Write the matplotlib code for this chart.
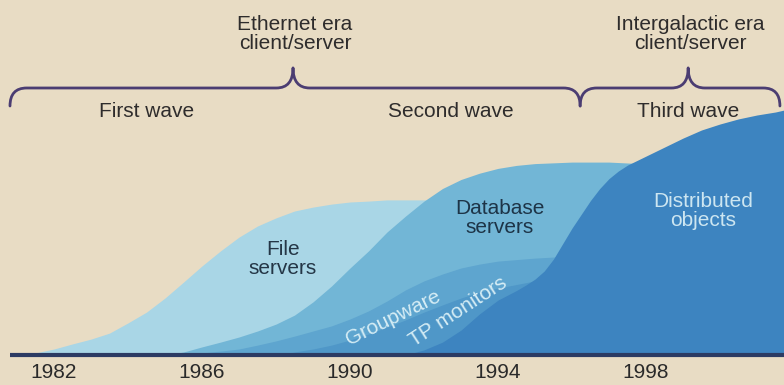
import matplotlib
matplotlib.use("Agg")
import matplotlib.pyplot as plt
from matplotlib.path import Path
from matplotlib.patches import PathPatch

plt.rcParams['font.family'] = ['Liberation Sans', 'DejaVu Sans']

# valores (anio, nivel relativo)
file_x = [1981.0, 1981.5, 1982.0, 1982.5, 1983.0, 1983.5, 1984.0, 1984.5, 1985.0, 1985.5,
          1986.0, 1986.5, 1987.0, 1987.5, 1988.0, 1988.5, 1989.0, 1989.5, 1990.0, 1990.5,
          1991.0, 1992.0, 1993.0, 1994.0]
file_y = [0, 0.7, 2, 3.7, 5.3, 7.3, 10.7, 14.3, 19, 24.3,
          29.7, 34.7, 39.3, 43, 45.7, 48, 49.3, 50.3, 51, 51.3,
          51.7, 51.7, 51.3, 50.7]

db_x = [1985.0, 1985.5, 1986.0, 1986.5, 1987.0, 1987.5, 1988.0, 1988.5, 1989.0, 1989.5,
        1990.0, 1990.5, 1991.0, 1991.5, 1992.0, 1992.5, 1993.0, 1993.5, 1994.0, 1994.5,
        1995.0, 1996.0, 1997.0, 1998.0, 1999.0]
db_y = [0, 1, 2.7, 4.3, 6, 8, 10.3, 13.3, 17.7, 23,
        29, 34.7, 41, 46.3, 51.3, 55.5, 58.5, 60.6, 62.2, 63.2,
        63.8, 64.3, 64.3, 63.7, 62.7]

group_x = [1985.5, 1986.0, 1986.5, 1987.0, 1987.5, 1988.0, 1988.5, 1989.0, 1989.5, 1990.0,
           1990.5, 1991.0, 1991.5, 1992.0, 1992.5, 1993.0, 1993.5, 1994.0, 1995.0, 1996.0,
           1997.0]
group_y = [0, 0.7, 1.3, 2, 3.3, 4.7, 6.3, 8, 9.7, 12,
           14.7, 18, 21.7, 24.7, 27, 29, 30.3, 31.3, 32.3, 33,
           33.3]

tp_x = [1988.0, 1988.5, 1989.0, 1989.5, 1990.0, 1990.5, 1991.0, 1991.5, 1992.0, 1992.5,
        1993.0, 1993.5, 1994.0, 1995.0, 1996.0, 1997.0]
tp_y = [0, 1, 2, 3.3, 5, 7, 9.3, 11.7, 14.3, 16.7,
        19, 21, 22.3, 24.7, 26, 26.7]

dist_x = [1991.5, 1992.0, 1992.5, 1993.0, 1993.5, 1994.0, 1994.5, 1994.75, 1995.0, 1995.25,
          1995.5, 1996.0, 1996.5, 1996.75, 1997.0, 1997.25, 1997.5, 1998.0, 1998.5, 1999.0,
          1999.5, 2000.0, 2000.5, 2001.0, 2001.5, 2001.75]
dist_y = [0, 1.7, 4.3, 8.3, 13.7, 18.3, 21.5, 23.3, 25.3, 28,
          32, 42.3, 51.5, 55.5, 58.8, 61.3, 63.3, 66.3, 69.3, 72.3,
          75, 77, 78.7, 80, 81, 81.7]

tick_years = [1982, 1986, 1990, 1994, 1998]

# llaves: inicio, punta, fin (anios)
llave1 = (1980.81, 1988.46, 1996.22)
llave2 = (1996.22, 1999.14, 2001.62)

fondo = '#e8dcc4'
col_llave = '#4b3d72'

fig = plt.figure(figsize=(7.84, 3.85), dpi=100, facecolor=fondo)
ax = fig.add_axes([0, 30/385, 1, 355/385])
ax.set_facecolor('none')
ax.set_xlim(1980.54, 2001.73)
ax.set_ylim(0, 118.33)

# areas superpuestas
ax.fill_between(file_x, file_y, 0, color='#a9d6e6', lw=0)
ax.fill_between(db_x, db_y, 0, color='#72b6d6', lw=0)
ax.fill_between(group_x, group_y, 0, color='#5ea5cf', lw=0)
ax.fill_between(tp_x, tp_y, 0, color='#4f97c8', lw=0)
ax.fill_between(dist_x, dist_y, 0, color='#3d84c0', lw=0)

# linea base
ax.plot([1980.81, 2001.73], [0, 0], color='#2c3b63', lw=3, clip_on=False,
        solid_capstyle='butt')


def dibujar_llave(x0, xt, x1, y=89, alto=6.7, bajo=6.0, r=0.45):
    verts = [(x0, y - bajo), (x0, y), (x0 + r, y),
             (xt - r, y), (xt, y), (xt, y + alto),
             (xt, y), (xt + r, y),
             (x1 - r, y), (x1, y), (x1, y - bajo)]
    codes = [Path.MOVETO, Path.CURVE3, Path.CURVE3,
             Path.LINETO, Path.CURVE3, Path.CURVE3,
             Path.CURVE3, Path.CURVE3,
             Path.LINETO, Path.CURVE3, Path.CURVE3]
    ax.add_patch(PathPatch(Path(verts, codes), fill=False, ec=col_llave, lw=2,
                           capstyle='round', joinstyle='round'))


dibujar_llave(*llave1)
dibujar_llave(*llave2)

txt = '#2e2c2c'
ax.text(1988.51, 107, "Ethernet era\nclient/server", ha='center', va='center',
        fontsize=15, color=txt, linespacing=1.05)
ax.text(1999.19, 107, "Intergalactic era\nclient/server", ha='center', va='center',
        fontsize=15, color=txt, linespacing=1.05)
ax.text(1984.51, 81, "First wave", ha='center', va='center', fontsize=15, color=txt)
ax.text(1992.73, 81, "Second wave", ha='center', va='center', fontsize=15, color=txt)
ax.text(1999.14, 81, "Third wave", ha='center', va='center', fontsize=15, color=txt)

ax.text(1988.19, 32, "File\nservers", ha='center', va='center', fontsize=15,
        color='#243646', linespacing=1.0)
ax.text(1994.05, 45.7, "Database\nservers", ha='center', va='center', fontsize=15,
        color='#1d3447', linespacing=1.0)
ax.text(1999.54, 48, "Distributed\nobjects", ha='center', va='center', fontsize=15,
        color='#cde6f1', linespacing=1.0)
ax.text(1991.16, 12.3, "Groupware", ha='center', va='center', fontsize=15,
        color='#d6edf5', rotation=26, rotation_mode='anchor')
ax.text(1992.92, 14.3, "TP monitors", ha='center', va='center', fontsize=15,
        color='#d6edf5', rotation=33, rotation_mode='anchor')

ax.set_xticks(tick_years)
ax.set_xticklabels([str(a) for a in tick_years], fontsize=15, color='#2a2a2a')
ax.tick_params(axis='x', length=0, pad=6)
ax.set_yticks([])
for s in ax.spines.values():
    s.set_visible(False)

fig.savefig("out.png", dpi=100, facecolor=fondo)
